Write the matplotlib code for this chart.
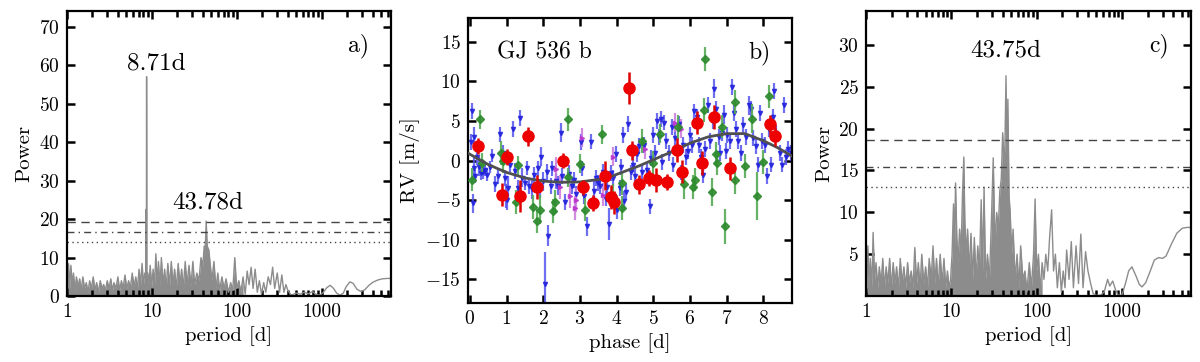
import matplotlib
matplotlib.use("Agg")
import matplotlib.pyplot as plt
import numpy as np

plt.rcParams['font.family'] = 'serif'
plt.rcParams['font.serif'] = ['cmr10', 'DejaVu Serif']
plt.rcParams['mathtext.fontset'] = 'cm'
plt.rcParams['axes.formatter.use_mathtext'] = True

# ---- panel a: GLS periodogram of the RVs ----
per_a = [1.02, 1.05, 1.08, 1.12, 1.16, 1.2, 1.25, 1.3, 1.36, 1.42, 1.48, 1.55, 1.62, 1.7, 1.78,
         1.86, 1.95, 2.05, 2.15, 2.25, 2.36, 2.48, 2.6, 2.72, 2.85, 3.0, 3.15, 3.3, 3.45, 3.6,
         3.8, 4.0, 4.2, 4.4, 4.6, 4.85, 5.1, 5.35, 5.6, 5.9, 6.2, 6.5, 6.8, 7.1, 7.4, 7.7, 8.0,
         8.3, 8.5, 8.6, 8.65, 8.71, 8.77, 9.0, 9.3, 9.6, 10.0, 10.4, 10.8, 11.2, 11.6, 12.0,
         12.5, 13.0, 13.6, 14.2, 14.8, 15.5, 16.2, 17.0, 17.8, 18.6, 19.5, 20.5, 21.5, 22.5,
         23.5, 24.8, 26, 27.5, 29, 30.5, 32, 34, 36, 38, 40, 41.5, 42.5, 43.78, 45, 47, 49, 51,
         54, 57, 60, 63, 67, 71, 75, 80, 85, 90, 95, 100, 106, 112, 119, 126, 133, 140, 148,
         156, 165, 175, 185, 196, 208, 220, 235, 250, 265, 280, 300, 320, 340, 360, 380, 400,
         430, 450, 500, 560, 620, 700, 780, 850, 950, 1050, 1150, 1260, 1380, 1500, 1650, 1800,
         1950, 2150, 2350, 2600, 2900, 3200, 3600, 4000, 4600, 5200, 6000, 6500]
pow_a = [0.5, 8.4, 2, 8, 3, 6, 1.5, 5, 2.5, 4.5, 1.5, 5, 2, 3.5, 1,
         4, 2, 5, 1.5, 3.5, 1, 4, 2, 3, 1.5, 4, 2, 4.5, 1.5, 3.5,
         2, 5, 1.5, 4, 2, 5.5, 2, 4, 2, 6, 2.5, 5, 2, 7, 3, 8.5, 3,
         6, 5, 22.5, 5, 57, 4, 6, 3, 8, 2.5, 7, 3, 11, 3, 9,
         2.5, 10, 3, 7, 2, 8.5, 2.5, 9, 3, 7, 2, 8.5, 3, 7,
         2, 9, 3, 8, 2.5, 9, 3, 6, 4, 10, 8, 13, 11, 19.5, 13, 12, 8, 4,
         9, 2, 6, 1.5, 5, 2, 4.5, 1, 3.5, 1.5, 10, 2, 4, 1, 5, 0.5, 6.5, 3, 7.5,
         2, 7, 1, 4, 0.5, 3.5, 1, 5, 3, 7.5, 2, 6, 1, 5.5, 1, 3, 1.5,
         0.5, 0.3, 0.8, 0.5, 1.0, 0.6, 1.2, 0.5, 0.2, 1.0, 2.2, 2.8, 2.0, 0.8, 0.2, 0.8,
         2.5, 3.7, 3.3, 1.8, 1.2, 1.6, 2.8, 3.6, 4.2, 4.5, 4.6, 4.6]
fap_a = [19.2, 16.6, 14.0]

# ---- panel c: periodogram of the residuals ----
per_c = [1.02, 1.05, 1.08, 1.12, 1.17, 1.21, 1.26, 1.31, 1.37, 1.43, 1.5, 1.57, 1.64, 1.72, 1.8,
         1.89, 1.98, 2.08, 2.18, 2.28, 2.4, 2.52, 2.65, 2.78, 2.92, 3.07, 3.22, 3.38, 3.55, 3.73,
         3.92, 4.1, 4.3, 4.5, 4.75, 5.0, 5.25, 5.5, 5.8, 6.1, 6.4, 6.7, 7.0, 7.4, 7.8, 8.2, 8.6,
         9.0, 9.4, 9.8, 10.2, 10.6, 10.9, 11.2, 11.6, 12.0, 12.5, 13.0, 13.5, 14.0, 14.4, 14.9,
         15.5, 16.2, 17, 17.8, 18.6, 19.5, 20.4, 21.3, 22.4, 23.3, 24.2, 25.2, 26.5, 28, 29.5,
         31, 32.5, 34, 35.5, 37, 38.5, 40, 41.5, 42.5, 43.75, 45, 46, 47.5, 49, 51, 53, 56, 59,
         62, 65, 69, 73, 77, 82, 87, 92, 96, 100, 105, 110, 116, 122, 128, 135, 142, 150, 158,
         166, 175, 185, 195, 205, 215, 225, 240, 255, 270, 290, 310, 330, 350, 375, 400, 430,
         460, 500, 560, 620, 680, 720, 780, 840, 900, 1000, 1100, 1200, 1310, 1450, 1600, 1720,
         1900, 2150, 2400, 2700, 3000, 3300, 3800, 4400, 5100, 5800, 6500]
pow_c = [0.5, 6, 1.5, 4.5, 1, 7.6, 2, 4, 1, 3.5, 1.5, 4.5, 1, 3.5, 1.5,
         4.5, 1, 4, 1.5, 3.5, 1, 4.5, 1.5, 3.5, 1, 4, 1.5, 3, 1, 5.8,
         1.5, 4, 1, 5, 1.5, 3.5, 1, 4.5, 2, 6, 1.5, 4.5, 1, 5, 1.5, 4.5, 1,
         3, 1, 2, 5, 11, 6, 13.5, 7, 4, 8, 5, 12, 16.6, 9, 5,
         8, 3, 7.5, 2, 7, 2, 6, 3, 11.5, 3, 13, 2, 5, 2, 9,
         16.5, 6, 10, 8, 12.5, 14, 19.5, 16, 18, 26.3, 15, 23.5, 12, 10, 5, 8, 2, 5,
         1, 6, 2, 3, 0.5, 4, 1, 5, 11.6, 3, 5, 0.5, 4, 2, 5, 3, 7, 10.3, 3,
         5, 1, 4, 0.5, 3, 1, 5.5, 2, 6.5, 1, 6, 1.5, 7.4, 1, 5.3, 3, 1.5,
         0.3, 0.1, 0.1, 0.5, 2.0, 1.2, 1.8, 0.8, 0.1, 0.1, 1.5, 3.0, 3.5, 2.5, 1.4, 1.1,
         1.6, 3.0, 4.3, 4.6, 4.5, 4.8, 6.2, 7.5, 8.1, 8.2, 8.2]
fap_c = [18.6, 15.4, 13.05]

# ---- panel b: phase-folded RVs (phase [d], RV [m/s], error [m/s]) ----
blue_ph = [0.02, 0.05, 0.08, 0.1, 0.12, 0.15, 0.2, 0.25, 0.3, 0.35, 0.42, 0.48, 0.55, 0.6, 0.68,
           0.78, 0.82, 0.9, 0.95, 0.98, 1.02, 1.05, 1.1, 1.18, 1.22, 1.3, 1.38, 1.42, 1.5, 1.55,
           1.62, 1.7, 1.75, 1.85, 1.9, 1.95, 2.0, 2.05, 2.1, 2.14, 2.2, 2.25, 2.35, 2.4, 2.48,
           2.52, 2.6, 2.7, 2.78, 2.85, 2.9, 3.02, 3.05, 3.12, 3.2, 3.3, 3.38, 3.45, 3.5, 3.55,
           3.62, 3.7, 3.75, 3.8, 3.85, 3.9, 3.98, 4.02, 4.08, 4.12, 4.18, 4.2, 4.25, 4.3, 4.38,
           4.45, 4.5, 4.55, 4.62, 4.7, 4.75, 4.82, 4.9, 4.95, 5.0, 5.05, 5.1, 5.15, 5.2, 5.25,
           5.3, 5.35, 5.42, 5.5, 5.55, 5.6, 5.7, 5.75, 5.82, 5.9, 5.95, 6.0, 6.05, 6.1, 6.18,
           6.25, 6.3, 6.35, 6.42, 6.5, 6.55, 6.62, 6.65, 6.7, 6.78, 6.82, 6.88, 6.92, 6.98, 7.02,
           7.08, 7.15, 7.2, 7.25, 7.32, 7.38, 7.45, 7.52, 7.6, 7.65, 7.72, 7.8, 7.85, 7.9, 7.95,
           8.05, 8.1, 8.15, 8.2, 8.26, 8.3, 8.35, 8.45, 8.5, 8.55, 8.62, 8.68, 8.75]
blue_rv = [2.3, 6.3, -5.4, -1.0, 3.0, -2.0, 0.5, -0.8, -1.6, -1.5, -1.2, -1.8, -0.8, 0.6, -3.0,
           -2.0, 3.3, 1.0, -2.2, -4.5, -5.0, -3.5, -0.5, 4.0, -1.3, -3.5, 5.4, -2.2, -2.8, -0.9,
           -3.2, -3.6, -1.8, -1.0, -3.5, 0.5, -2.6, -15.6, -1.4, -9.5, -3.2, -1.0, -2.6, -3.2, 3.5,
           -2.0, -5.2, -1.7, -3.2, -2.5, -4.2, 2.3, -1.0, -4.5, -8.3, 2.4, -3.8, -2.2, -2.8, -3.2,
           -1.4, -4.8, -3.4, -8.0, -1.6, -2.2, 0.8, -6.2, -3.5, -0.8, 3.2, -5.1, -4.0, 4.6, -1.5,
           -0.5, -2.0, 0.8, 1.8, -1.5, 2.0, -1.2, -5.8, 0.3, 3.2, 1.0, 5.0, 3.0, 5.2, -0.2,
           4.8, 2.5, 1.0, 4.2, -0.5, 2.8, 4.6, -1.5, 2.0, 0.5, 1.2, 3.2, 2.0, 6.2, 5.5,
           2.0, 0.5, -1.8, 1.5, 7.0, 2.5, 5.0, 9.1, 6.5, 3.0, 1.0, 3.5, 5.8, 1.2, 3.2,
           2.5, 9.3, 6.0, 4.0, 2.5, 1.0, 4.5, 3.0, 7.0, 6.5, 2.8, 1.8, -0.5, 6.0, 2.5,
           2.0, -2.0, 4.0, -0.5, 5.5, 8.8, 3.5, 1.0, -0.5, 7.0, 0.5, 1.5, 1.0]
blue_err = [1.0, 1.0, 1.2, 1.5, 1.2, 0.8, 1.0, 1.2, 0.8, 0.8, 0.8, 0.8, 0.8, 0.8, 1.0,
            1.0, 1.0, 1.0, 1.0, 1.5, 1.2, 1.5, 1.0, 1.0, 1.0, 1.0, 1.0, 1.2, 0.9, 0.9,
            1.0, 1.2, 1.0, 1.0, 1.2, 1.2, 1.2, 4.0, 1.0, 1.3, 1.0, 1.0, 1.0, 1.2, 1.2,
            1.0, 1.0, 1.2, 1.0, 1.0, 1.0, 1.0, 1.0, 1.0, 1.2, 1.0, 1.2, 1.0, 1.0, 1.0,
            1.0, 1.0, 1.0, 2.0, 1.0, 1.0, 1.0, 1.2, 1.0, 1.0, 1.0, 1.2, 1.0, 1.0, 1.0,
            1.0, 1.0, 1.0, 1.0, 1.0, 1.0, 1.0, 1.0, 1.0, 1.0, 1.0, 1.0, 1.0, 1.0, 1.0,
            1.0, 1.0, 1.0, 1.0, 1.0, 1.0, 1.0, 1.0, 1.0, 1.0, 1.0, 1.0, 1.0, 1.0, 1.0,
            1.0, 1.0, 1.0, 1.0, 1.0, 1.0, 1.0, 1.2, 1.0, 1.0, 1.0, 1.0, 1.2, 1.0, 1.0,
            1.0, 1.0, 1.0, 1.0, 1.0, 1.0, 1.0, 1.0, 1.2, 1.0, 1.0, 1.0, 1.0, 1.0, 1.0,
            1.0, 1.0, 1.0, 1.0, 1.0, 1.0, 1.0, 1.0, 1.0, 1.0, 1.0, 1.0, 1.0]

green_ph = [0.05, 0.27, 0.32, 0.86, 0.9, 1.27, 1.32, 1.71, 1.84, 1.91, 2.27, 2.32, 2.68, 2.68,
            3.0, 3.14, 3.59, 3.91, 4.14, 4.16, 4.68, 4.98, 5.18, 5.68, 5.84, 6.09, 6.14, 6.4,
            6.39, 6.61, 6.71, 6.73, 6.86, 6.95, 7.23, 7.23, 7.5, 7.68, 7.82, 8.0, 8.14]
green_rv = [-2.4, 5.2, -0.3, 1.0, -0.1, -5.2, -0.6, -5.9, -7.6, -6.2, -6.4, -5.2, 5.2, -2.1,
            -0.4, -6.2, 3.3, -4.5, -6.0, -2.8, 2.5, -0.3, 3.4, 4.2, -3.0, -3.3, -2.4, 12.8,
            6.4, -4.0, 0.8, -0.3, 4.3, -8.3, 7.4, -2.4, -0.7, 5.3, -4.5, -0.2, 8.1]
green_err = [1.5, 1.2, 1.2, 1.5, 1.5, 1.5, 1.2, 1.5, 1.5, 1.8, 1.5, 1.5, 1.5, 1.2,
             1.2, 1.5, 1.2, 1.5, 1.5, 1.5, 1.5, 1.5, 1.2, 1.5, 1.8, 1.5, 1.5, 1.5,
             1.5, 1.8, 1.5, 1.5, 1.5, 2.2, 1.5, 1.8, 1.5, 1.8, 3.0, 1.5, 1.5]

red_ph = [0.23, 0.89, 1.02, 1.36, 1.59, 1.82, 2.53, 3.09, 3.36, 3.68, 3.86, 3.94, 4.33, 4.42,
          4.61, 4.87, 5.07, 5.38, 5.65, 5.79, 6.18, 6.34, 6.66, 7.08, 8.18, 8.31]
red_rv = [1.8, -4.3, 0.4, -4.5, 3.1, -3.3, 0.0, -3.4, -5.4, -1.9, -4.6, -5.3, 9.15, 1.3,
          -3.0, -2.2, -2.5, -2.7, 1.3, -1.4, 4.8, -0.3, 5.5, -1.0, 4.6, 3.1]
red_err = [1.0, 1.5, 1.0, 2.0, 1.2, 1.5, 1.0, 1.0, 1.0, 1.8, 1.5, 1.5, 2.0, 1.2,
           1.2, 1.0, 1.5, 1.0, 1.5, 1.5, 1.5, 1.5, 1.5, 1.5, 1.2, 1.2]

mag_ph = [2.36, 2.45, 2.73, 2.86, 2.9, 3.05, 3.64, 3.9, 4.77, 5.6, 5.75]
mag_rv = [-1.1, -3.3, -4.5, -6.0, -5.0, 2.9, -4.3, 0.5, 1.4, 4.8, 4.0]
mag_err = [1.5, 1.5, 1.5, 1.5, 1.5, 1.2, 1.5, 1.2, 1.2, 1.2, 1.2]

model_ph = [-0.1, 0.0, 0.5, 1.0, 1.5, 2.0, 2.5, 3.0, 3.5, 3.8, 4.2, 4.6, 5.0, 5.5, 6.0, 6.5,
            7.0, 7.5, 8.0, 8.4, 8.8]
model_rv = [1.1, 0.8, -0.5, -1.5, -2.2, -2.6, -2.75, -2.7, -2.4, -2.1, -1.4, -0.7, 0.1, 1.1,
            2.2, 3.0, 3.4, 3.4, 2.5, 1.6, 0.5]

grey = '#8c8c8c'
TICK_FS = 14
LABEL_FS = 15
ANNOT_FS = 18


def style_axes(ax):
    ax.tick_params(which='both', direction='in', top=True, right=True, labelsize=TICK_FS, pad=5)
    ax.tick_params(which='major', length=6, width=1.8)
    ax.tick_params(which='minor', length=4, width=1.8)
    for s in ax.spines.values():
        s.set_linewidth(1.6)


def periodogram(ax, per, pw, fap, fill_to):
    per = np.array(per)
    pw = np.array(pw)
    m = per <= fill_to
    ax.fill_between(per[m], 0, pw[m], color=grey, lw=0)
    ax.plot(per, pw, color=grey, lw=1.0)
    ax.axhline(fap[0], color='#444444', lw=1.0, ls=(0, (6, 4)))
    ax.axhline(fap[1], color='#444444', lw=1.0, ls=(0, (5, 3, 1, 3)))
    ax.axhline(fap[2], color='#444444', lw=1.0, ls=(0, (1, 2.5)))
    ax.set_xscale('log')
    ax.set_xlim(1, 6500)
    ax.set_xticks([1, 10, 100, 1000])
    ax.set_xticklabels(['1', '10', '100', '1000'])
    ax.set_xlabel('period [d]', fontsize=LABEL_FS)
    ax.set_ylabel('Power', fontsize=LABEL_FS)
    style_axes(ax)


fig = plt.figure(figsize=(12, 3.62), dpi=100)

ax1 = fig.add_axes([0.0556, 0.182, 0.270, 0.787])
periodogram(ax1, per_a, pow_a, fap_a, 120)
ax1.set_ylim(0, 74)
ax1.set_yticks(range(0, 71, 10))
ax1.text(11.3, 60.5, '8.71d', ha='center', va='center', fontsize=ANNOT_FS)
ax1.text(46, 24.4, '43.78d', ha='center', va='center', fontsize=ANNOT_FS)
ax1.text(0.9, 0.88, 'a)', transform=ax1.transAxes, ha='center', va='center', fontsize=17)

ax2 = fig.add_axes([0.39, 0.163, 0.270, 0.787])
ax2.errorbar(blue_ph, blue_rv, yerr=blue_err, fmt='v', ms=3, color='#2222dd',
             ecolor='#5555ee', elinewidth=1.6, capsize=0, alpha=0.85, zorder=2)
ax2.errorbar(mag_ph, mag_rv, yerr=mag_err, fmt='>', ms=3, color='#bb33cc',
             ecolor='#cc77dd', elinewidth=1.6, capsize=0, alpha=0.85, zorder=2)
ax2.errorbar(green_ph, green_rv, yerr=green_err, fmt='D', ms=4, color='#2e8b2e',
             ecolor='#55aa55', elinewidth=1.6, capsize=0, alpha=0.9, zorder=3)
ax2.plot(model_ph, model_rv, color='#505050', lw=2.0, zorder=4)
ax2.errorbar(red_ph, red_rv, yerr=red_err, fmt='o', ms=8, color='#ee0000',
             ecolor='#dd0000', elinewidth=1.8, capsize=0, zorder=5)
ax2.set_xlim(-0.05, 8.78)
ax2.set_ylim(-18, 18)
ax2.set_xticks(range(0, 9))
ax2.set_yticks([-15, -10, -5, 0, 5, 10, 15])
ax2.set_xlabel('phase [d]', fontsize=LABEL_FS)
ax2.set_ylabel('RV [m/s]', fontsize=LABEL_FS)
ax2.text(0.09, 0.88, 'GJ 536 b', transform=ax2.transAxes, ha='left', va='center', fontsize=17)
ax2.text(0.9, 0.88, 'b)', transform=ax2.transAxes, ha='center', va='center', fontsize=17)
style_axes(ax2)

ax3 = fig.add_axes([0.7217, 0.182, 0.271, 0.787])
periodogram(ax3, per_c, pow_c, fap_c, 120)
ax3.set_ylim(0, 34)
ax3.set_yticks([5, 10, 15, 20, 25, 30])
ax3.text(43.75, 29.3, '43.75d', ha='center', va='center', fontsize=ANNOT_FS)
ax3.text(0.9, 0.88, 'c)', transform=ax3.transAxes, ha='center', va='center', fontsize=17)

fig.savefig('out.png', dpi=100)
